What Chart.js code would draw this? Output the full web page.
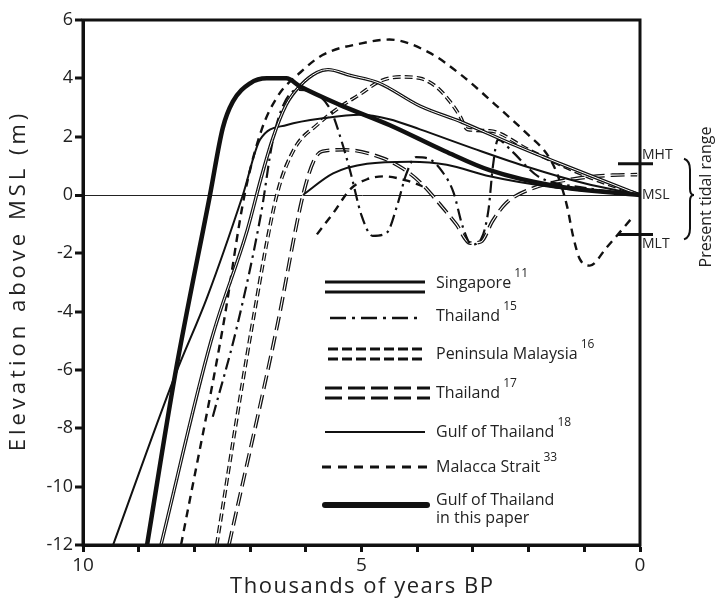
<!DOCTYPE html>
<html>
<head>
<meta charset="utf-8">
<script src="https://cdn.jsdelivr.net/npm/chart.js@4.4.1/dist/chart.umd.min.js"></script>
<style>
  body { margin: 0; background: #fff; }
  canvas { display: block; }
</style>
</head>
<body>
<canvas id="sealevel" width="715" height="600"></canvas>
<script>
// ages in thousands of years BP, elevations in m above MSL
const paperAge  = [8.85, 8.35, 7.72, 7.49, 7.31, 7.0, 6.7, 6.35, 6.1, 5.4, 4.5, 3.5, 2.7, 1.5, 0];
const paperElev = [-12, -6.2, 0, 2.3, 3.2, 3.83, 4.0, 4.0, 3.72, 3.1, 2.4, 1.5, 0.85, 0.3, 0];

const singaporeAge  = [8.6, 7.7, 7.05, 6.8, 6.6, 6.35, 6.1, 5.8, 5.6, 5.2, 4.7, 3.95, 3.2, 2.3, 1.4, 0];
const singaporeElev = [-12, -5, -1.2, 0.6, 1.9, 3.1, 3.75, 4.2, 4.3, 4.1, 3.85, 3.05, 2.5, 1.75, 1.05, 0];

const gulfAge  = [9.46, 8.35, 7.77, 7.13, 6.82, 6.34, 5.62, 5.03, 4.5, 3.95, 3.0, 2.0, 1.0, 0];
const gulfElev = [-12, -6.2, -3.5, 0, 1.9, 2.4, 2.65, 2.75, 2.6, 2.25, 1.6, 0.95, 0.4, 0];
const gulfLowAge  = [6.05, 5.51, 4.9, 4.13, 3.47, 2.7, 1.5, 0];
const gulfLowElev = [0, 0.74, 1.07, 1.14, 1.04, 0.64, 0.25, 0];

const thailand15Age  = [7.67, 7.24, 6.8, 6.6, 6.4, 6.15, 5.85, 5.55, 5.35, 5.2, 5.0, 4.8, 4.55, 4.35, 4.2, 4.02, 3.8, 3.55, 3.35, 3.18, 3.02, 2.85, 2.72, 2.64, 2.55, 2.3, 1.83, 1.0, 0];
const thailand15Elev = [-7.6, -4.55, -0.6, 1.8, 3.1, 3.6, 3.5, 2.9, 1.8, 0.8, -0.7, -1.4, -1.3, -0.3, 0.7, 1.3, 1.25, 0.8, 0.1, -1.1, -1.7, -1.5, -0.5, 1.0, 1.9, 1.5, 0.64, 0.25, 0];

const peninsulaAge  = [7.6, 6.97, 6.52, 6.2, 5.8, 5.4, 5.03, 4.67, 4.3, 3.95, 3.65, 3.41, 3.23, 3.1, 2.7, 2.0, 1.5, 0.9, 0];
const peninsulaElev = [-12, -4.55, 0, 1.6, 2.4, 3.0, 3.45, 3.9, 4.05, 4.0, 3.7, 3.2, 2.7, 2.25, 2.2, 1.55, 1.1, 0.6, 0];

const thailand17Age  = [7.38, 6.52, 6.05, 5.85, 5.7, 5.3, 4.6, 4.25, 3.9, 3.6, 3.3, 3.05, 2.85, 2.65, 2.4, 1.97, 1.2, 0.5, 0.05];
const thailand17Elev = [-12, -4.55, 0, 1.2, 1.5, 1.55, 1.25, 0.9, 0.35, -0.3, -1.0, -1.65, -1.6, -0.9, -0.27, 0.2, 0.55, 0.68, 0.7];

const malaccaAge  = [8.24, 7.49, 7.1, 6.8, 6.5, 6.1, 5.7, 5.0, 4.5, 3.8, 3.2, 2.6, 2.0, 1.67, 1.49, 1.31, 1.2, 1.08, 0.9, 0.6, 0.15];
const malaccaElev = [-12, -4.55, 0, 2.2, 3.4, 4.2, 4.8, 5.2, 5.33, 4.9, 4.1, 3.1, 2.05, 1.4, 0.74, -0.38, -1.42, -2.2, -2.42, -1.8, -0.8];
const malaccaLowAge  = [5.8, 5.5, 5.2, 4.9, 4.6, 4.2, 3.9];
const malaccaLowElev = [-1.35, -0.6, 0.2, 0.54, 0.64, 0.5, 0.3];

const xLabels = [10, 5, 0];
const tidal = { MHT: 1.07, MSL: 0, MLT: -1.35 };

const legendItems = [
  { name: 'Singapore', ref: '11' },
  { name: 'Thailand', ref: '15' },
  { name: 'Peninsula Malaysia', ref: '16' },
  { name: 'Thailand', ref: '17' },
  { name: 'Gulf of Thailand', ref: '18' },
  { name: 'Malacca Strait', ref: '33' },
  { name: 'Gulf of Thailand', ref: '', line2: 'in this paper' }
];

const INK = '#111';
const TEXT = '#222';
const FONT = "'Open Sans', 'Liberation Sans', sans-serif";
Chart.defaults.font.family = FONT;
Chart.defaults.color = TEXT;

function pts(ages, elevs) {
  return ages.map((a, i) => ({ x: a, y: elevs[i] }));
}

function line(data, width, dash, order, color) {
  return {
    data: data,
    borderColor: color || INK,
    borderWidth: width,
    borderDash: dash || [],
    pointRadius: 0,
    fill: false,
    cubicInterpolationMode: 'monotone',
    order: order
  };
}

const datasets = [
  line(pts(paperAge, paperElev), 4.5, [], 0),
  line(pts(singaporeAge, singaporeElev), 1.0, [], 1, '#fff'),
  line(pts(singaporeAge, singaporeElev), 3.4, [], 2),
  line(pts(gulfAge, gulfElev), 2, [], 3),
  line(pts(gulfLowAge, gulfLowElev), 2, [], 3),
  line(pts(thailand15Age, thailand15Elev), 2.2, [12, 5, 2.5, 5], 4),
  line(pts(peninsulaAge, peninsulaElev), 1.1, [], 5, '#fff'),
  line(pts(peninsulaAge, peninsulaElev), 3.6, [8, 4], 6),
  line(pts(thailand17Age, thailand17Elev), 1.1, [], 7, '#fff'),
  line(pts(thailand17Age, thailand17Elev), 3.6, [14, 6], 8),
  line(pts(malaccaAge, malaccaElev), 2.4, [8, 6], 9),
  line(pts(malaccaLowAge, malaccaLowElev), 2.4, [8, 6], 9)
];

function spacedText(ctx, text, x, y, spacing) {
  if ('letterSpacing' in ctx) {
    ctx.letterSpacing = spacing + 'px';
    ctx.fillText(text, x + spacing / 2, y);
    ctx.letterSpacing = '0px';
  } else {
    ctx.fillText(text, x, y);
  }
}

// frame, axis titles, tidal range marks and the in-plot legend
const decorations = {
  id: 'decorations',
  afterDatasetsDraw(chart) {
    const ctx = chart.ctx;
    const a = chart.chartArea;
    const y = chart.scales.y;
    ctx.save();
    ctx.strokeStyle = INK;
    ctx.lineWidth = 3;
    ctx.setLineDash([]);
    ctx.strokeRect(a.left, a.top, a.right - a.left, a.bottom - a.top);

    // axis titles
    ctx.fillStyle = TEXT;
    ctx.textAlign = 'center';
    ctx.textBaseline = 'middle';
    ctx.font = '22px ' + FONT;
    spacedText(ctx, 'Thousands of years BP', (a.left + a.right) / 2, 587, 1.5);
    ctx.save();
    ctx.translate(19, (a.top + a.bottom) / 2);
    ctx.rotate(-Math.PI / 2);
    ctx.font = '22px ' + FONT;
    spacedText(ctx, 'Elevation above MSL (m)', 0, 0, 4);
    ctx.restore();

    // tidal marks
    const yH = y.getPixelForValue(tidal.MHT);
    const yS = y.getPixelForValue(tidal.MSL);
    const yL = y.getPixelForValue(tidal.MLT);
    ctx.beginPath();
    ctx.moveTo(a.right - 22, yH); ctx.lineTo(a.right + 13, yH);
    ctx.moveTo(a.right - 22, yL); ctx.lineTo(a.right + 13, yL);
    ctx.stroke();
    ctx.font = '14px ' + FONT;
    ctx.textAlign = 'left';
    ctx.fillText('MHT', a.right + 2, yH - 9);
    ctx.fillText('MSL', a.right + 2, yS);
    ctx.fillText('MLT', a.right + 2, yL + 10);

    // brace
    const bx = a.right + 44;
    ctx.lineWidth = 2;
    ctx.beginPath();
    ctx.moveTo(bx, yH - 5);
    ctx.quadraticCurveTo(bx + 6, yH - 3, bx + 6, yH + 6);
    ctx.lineTo(bx + 6, yS - 6);
    ctx.quadraticCurveTo(bx + 6, yS, bx + 10, yS);
    ctx.quadraticCurveTo(bx + 6, yS, bx + 6, yS + 6);
    ctx.lineTo(bx + 6, yL - 6);
    ctx.quadraticCurveTo(bx + 6, yL + 3, bx, yL + 5);
    ctx.stroke();

    ctx.save();
    ctx.translate(a.right + 66, yS + 2);
    ctx.rotate(-Math.PI / 2);
    ctx.textAlign = 'center';
    ctx.font = '16px ' + FONT;
    ctx.fillText('Present tidal range', 0, 0);
    ctx.restore();

    // legend
    const x1 = 325, x2 = 425, tx = 436;
    const rows = [283, 316, 354, 393, 432, 467, 500];
    function seg(yy, w, dash, xa, xb) {
      ctx.lineWidth = w;
      ctx.setLineDash(dash);
      ctx.beginPath();
      ctx.moveTo(xa || x1, yy);
      ctx.lineTo(xb || x2, yy);
      ctx.stroke();
    }
    ctx.lineCap = 'butt';
    seg(282, 3, []); seg(292, 3, []);
    seg(318, 2.5, [16, 6, 3, 6], 330, 423);
    seg(349, 3, [10, 4], 328, 425); seg(359, 3, [10, 4], 328, 425);
    seg(388, 3, [17, 6], 325, 430); seg(398, 3, [17, 6], 325, 430);
    seg(432, 2, []);
    seg(467, 3, [9, 7], 322, 428);
    ctx.lineCap = 'round';
    seg(505, 6, [], 325, 427);
    ctx.setLineDash([]);

    ctx.textAlign = 'left';
    ctx.textBaseline = 'middle';
    legendItems.forEach((it, i) => {
      ctx.font = '16px ' + FONT;
      ctx.fillText(it.name, tx, rows[i]);
      const w = ctx.measureText(it.name + ' ').width;
      if (it.ref) {
        ctx.font = '12px ' + FONT;
        ctx.fillText(it.ref, tx + w - 1, rows[i] - 9);
      }
      if (it.line2) {
        ctx.font = '16px ' + FONT;
        ctx.fillText(it.line2, tx, rows[i] + 18);
      }
    });
    ctx.restore();
  }
};

new Chart(document.getElementById('sealevel'), {
  type: 'line',
  data: { datasets: datasets },
  options: {
    responsive: false,
    animation: false,
    layout: { padding: { top: 20, right: 75, left: 0, bottom: 0 } },
    plugins: { legend: { display: false }, tooltip: { enabled: false } },
    scales: {
      x: {
        type: 'linear',
        reverse: true,
        min: 0,
        max: 10,
        afterFit: s => { s.height = 55; },
        border: { display: true, color: INK, width: 3 },
        grid: { drawOnChartArea: false, drawTicks: true, tickLength: 7, tickWidth: 3, tickColor: INK },
        ticks: {
          stepSize: 1,
          autoSkip: false,
          maxRotation: 0,
          padding: 2,
          color: TEXT,
          font: { size: 19 },
          callback: v => (xLabels.includes(v) ? String(v) : '')
        },
        title: { display: false }
      },
      y: {
        min: -12,
        max: 6,
        afterFit: s => { s.width = 83; },
        border: { display: true, color: INK, width: 3 },
        grid: {
          drawTicks: true,
          tickLength: 8,
          tickWidth: 3,
          tickColor: INK,
          color: c => (c.tick && c.tick.value === 0 ? '#222' : 'rgba(0,0,0,0)'),
          lineWidth: c => (c.tick && c.tick.value === 0 ? 1 : 0)
        },
        ticks: { stepSize: 2, padding: 2, color: TEXT, font: { size: 18 } },
        title: { display: false }
      }
    }
  },
  plugins: [decorations]
});
</script>
</body>
</html>
